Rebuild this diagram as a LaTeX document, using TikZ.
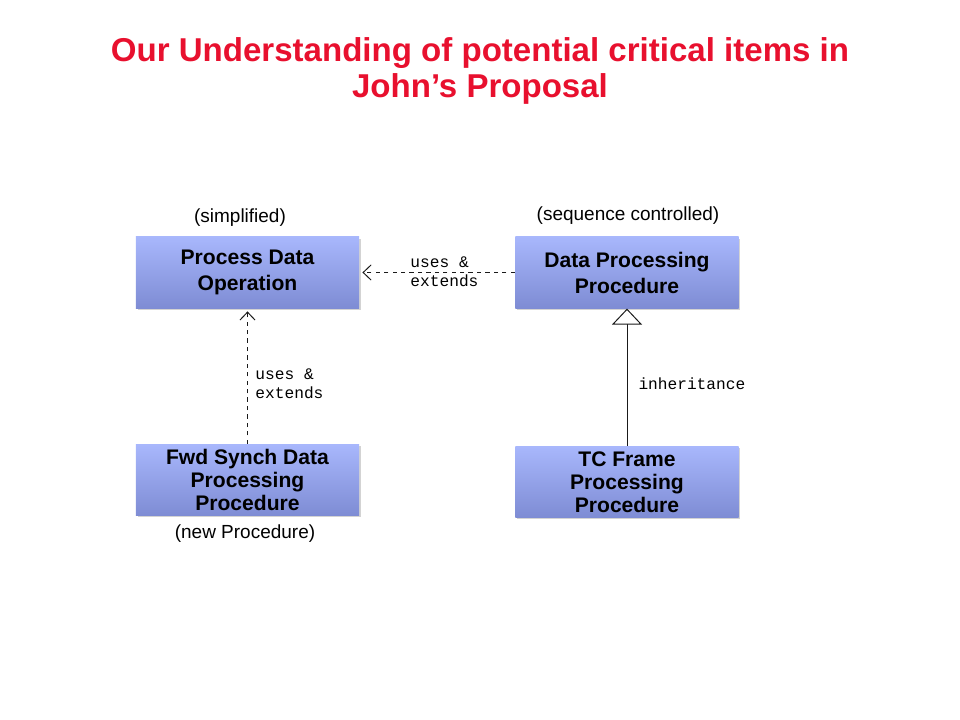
\documentclass[tikz,border=0pt]{standalone}
\usepackage{fontspec}
\setmainfont{Liberation Sans}
\setmonofont{Liberation Mono}
\usetikzlibrary{arrows.meta, positioning, shadows}
\definecolor{ctitle}{HTML}{E8102E}
\definecolor{cboxtop}{HTML}{A8B7FC}
\definecolor{cboxbot}{HTML}{7E8CD4}
\definecolor{cline}{HTML}{1A1A1A}
\tikzset{
  every picture/.style={font=\rmfamily, line width=0.7pt},
  box/.style={top color=cboxtop, bottom color=cboxbot, draw=none, align=center,
    minimum width=5.58cm, minimum height=1.78cm, inner sep=2pt,
    drop shadow={opacity=0.35, shadow xshift=1.2pt, shadow yshift=-1.2pt},
    font=\fontsize{15}{16.5}\selectfont\bfseries},
  dep/.style={-{Straight Barb[length=2mm, width=3.8mm]}, draw=cline, dashed},
  inherit/.style={-{Triangle[open, length=0.4cm, width=0.75cm, fill=white]}, draw=cline},
  title/.style={font=\fontsize{23.5}{25.8}\selectfont\bfseries, text=ctitle, align=center},
  note/.style={font=\fontsize{13.5}{16}\selectfont},
  code/.style={font=\ttfamily\fontsize{11.5}{13.5}\selectfont, align=left, inner sep=0pt},
}

\begin{document}
\begin{tikzpicture}[x=0.025cm, y=-0.025cm]
  \useasboundingbox (0,0) rectangle (960,720);

  \node[title] (head) at (480,71) {Our Understanding of potential critical items in\\ John’s Proposal};

  \node[box] (pdo) at (247.5,272.5) {Process Data\\[2pt] Operation};
  \node[box] (dpp) at (627,272.5) {Data Processing\\[2pt] Procedure};
  \node[box] (fwd) at (247.5,480) {Fwd Synch Data\\ Processing\\ Procedure};
  \node[box] (tc) at (627,482) {TC Frame\\ Processing\\ Procedure};

  \node[note] (simp) at (240,218) {(simplified)};
  \node[note] (seq) at (628,216) {(sequence controlled)};
  \node[note] (newp) at (245,534) {(new Procedure)};

  \draw[dep, shorten >=2pt] (dpp.west) -- (pdo.east);
  \draw[dep, shorten >=2pt] (fwd.north) -- (pdo.south);
  \draw[inherit] (tc.north) -- (dpp.south);

  \node[code, anchor=north west] (ue1) at (410,256) {uses \&\\ extends};
  \node[code, anchor=north west] (ue2) at (255,368) {uses \&\\ extends};
  \node[code, anchor=west] (inh) at (638,384) {inheritance};
\end{tikzpicture}
\end{document}
